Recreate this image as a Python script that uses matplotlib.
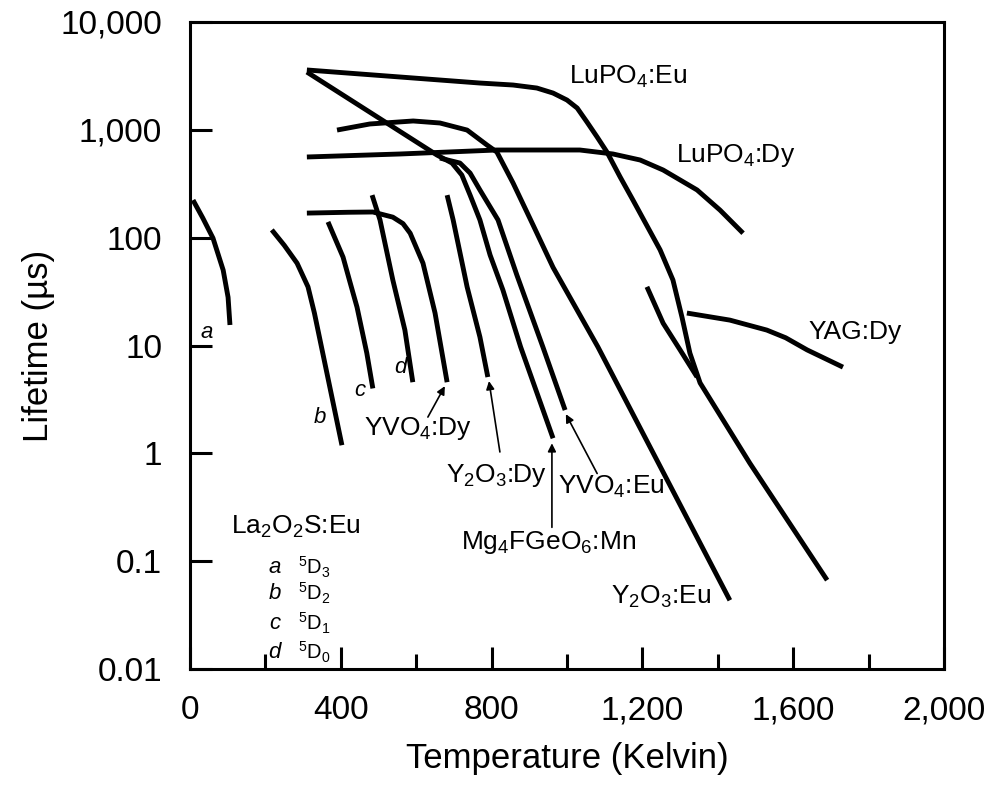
import matplotlib
matplotlib.use("Agg")
import matplotlib.pyplot as plt
from matplotlib.ticker import FixedLocator, MultipleLocator, FuncFormatter

plt.rcParams["font.family"] = ["Liberation Sans", "DejaVu Sans"]
plt.rcParams["mathtext.default"] = "regular"

# La2O2S:Eu levels a-d
a_T = [8, 34, 61, 88, 101, 106]
a_tau = [223, 152, 99, 50, 28, 15.5]
b_T = [217, 250, 284, 313, 330, 345, 371, 403]
b_tau = [118, 85, 58, 35, 20, 11.2, 4.1, 1.19]
c_T = [366, 406, 425, 443, 469, 485]
c_tau = [140, 66, 38, 22.7, 8.5, 4.0]
d_T = [483, 504, 538, 570, 591]
d_tau = [248, 146, 40.5, 13.9, 4.57]

yvo4_dy_T = [310, 420, 485, 538, 565, 584, 618, 650, 682]
yvo4_dy_tau = [169, 172, 173, 155, 135, 110, 58, 20, 4.57]

y2o3_dy_T = [682, 698, 735, 769, 790]
y2o3_dy_tau = [248, 146, 35, 12, 5.1]

mg_T = [310, 655, 695, 721, 743, 769, 796, 830, 877, 963]
mg_tau = [3435, 584, 492, 381, 248, 146, 69, 32.7, 9.7, 1.38]

yvo4_eu_T = [663, 716, 743, 769, 817, 867, 936, 995]
yvo4_eu_tau = [547, 492, 397, 277, 146, 45, 9.7, 2.52]

y2o3_eu_T = [390, 477, 592, 663, 735, 788, 814, 857, 910, 963, 1082, 1432]
y2o3_eu_tau = [995, 1133, 1208, 1157, 995, 722, 622, 321, 131, 53, 9.7, 0.0434]

lupo4_eu_T = [310, 769, 857, 920, 963, 1000, 1027, 1053, 1080, 1106, 1141,
              1175, 1247, 1281, 1305, 1326, 1353, 1485, 1690]
lupo4_eu_tau = [3590, 2716, 2603, 2441, 2193, 1889, 1592, 1181, 857, 622, 365,
                223, 77, 40.5, 18.3, 8.5, 4.5, 0.81, 0.0667]

lupo4_dy_T = [310, 557, 814, 1034, 1122, 1194, 1255, 1345, 1406, 1467]
lupo4_dy_tau = [560, 597, 650, 650, 597, 525, 424, 277, 180, 110]

yag_dy_T = [1318, 1432, 1530, 1580, 1637, 1732]
yag_dy_tau = [20, 17.2, 13.9, 11.8, 9.1, 6.3]

yag_low_T = [1212, 1255, 1300, 1345]
yag_low_tau = [35, 16.1, 9.1, 5.1]

y_ticks = [0.01, 0.1, 1, 10, 100, 1000, 10000]
y_labels = ["0.01", "0.1", "1", "10", "100", "1,000", "10,000"]

fig = plt.figure(figsize=(10, 7.91), dpi=100)
ax = fig.add_axes([0.19, 0.1542, 0.754, 0.818])

lw = 3.5
for T, tau in [(a_T, a_tau), (b_T, b_tau), (c_T, c_tau), (d_T, d_tau),
               (yvo4_dy_T, yvo4_dy_tau), (y2o3_dy_T, y2o3_dy_tau),
               (mg_T, mg_tau), (yvo4_eu_T, yvo4_eu_tau),
               (y2o3_eu_T, y2o3_eu_tau), (lupo4_eu_T, lupo4_eu_tau),
               (lupo4_dy_T, lupo4_dy_tau), (yag_dy_T, yag_dy_tau),
               (yag_low_T, yag_low_tau)]:
    ax.plot(T, tau, color="black", lw=lw, solid_capstyle="butt",
            solid_joinstyle="round")

ax.set_yscale("log")
ax.set_xlim(0, 2000)
ax.set_ylim(0.01, 10000)

ax.xaxis.set_major_locator(MultipleLocator(400))
ax.xaxis.set_minor_locator(MultipleLocator(200))
ax.xaxis.set_major_formatter(FuncFormatter(lambda v, p: f"{v:,.0f}"))
ax.yaxis.set_major_locator(FixedLocator(y_ticks))
ax.yaxis.set_minor_locator(FixedLocator([]))
ax.set_yticklabels(y_labels)

ax.tick_params(axis="both", which="major", direction="in", length=16,
               width=2.2, labelsize=24)
ax.tick_params(axis="x", which="minor", direction="in", length=11, width=2.2)
ax.tick_params(axis="x", which="major", pad=19)
ax.tick_params(axis="y", which="major", pad=20)
ax.tick_params(top=False, right=False)
for s in ax.spines.values():
    s.set_linewidth(2.2)

ax.set_xlabel("Temperature (Kelvin)", fontsize=25, labelpad=11)
ax.set_ylabel("Lifetime (\u00b5s)", fontsize=25, labelpad=4)

fs = 19
ax.text(1162, 3090, "LuPO$_4$:Eu", fontsize=fs, ha="center", va="center")
ax.text(1448, 584, "LuPO$_4$:Dy", fontsize=fs, ha="center", va="center")
ax.text(1764, 13.3, "YAG:Dy", fontsize=fs, ha="center", va="center")
ax.text(1249, 0.0464, "Y$_2$O$_3$:Eu", fontsize=fs, ha="center", va="center")

arrow = dict(arrowstyle="-|>", color="black", lw=1.2, mutation_scale=12,
             shrinkA=0, shrinkB=0)
ax.annotate("", xy=(676, 4.2), xytext=(631, 2.17), arrowprops=arrow)
ax.text(605, 1.71, "YVO$_4$:Dy", fontsize=fs, ha="center", va="center")
ax.annotate("", xy=(793, 4.68), xytext=(822, 1.03), arrowprops=arrow)
ax.text(814, 0.628, "Y$_2$O$_3$:Dy", fontsize=fs, ha="center", va="center")
ax.annotate("", xy=(997, 2.31), xytext=(1080, 0.65), arrowprops=arrow)
ax.text(1117, 0.486, "YVO$_4$:Eu", fontsize=fs, ha="center", va="center")
ax.annotate("", xy=(960, 1.24), xytext=(960, 0.206), arrowprops=arrow)
ax.text(950, 0.150, "Mg$_4$FGeO$_6$:Mn", fontsize=fs, ha="center", va="center")

for lab, T, tau in [("a", 45, 13.3), ("b", 345, 2.17), ("c", 451, 3.86),
                    ("d", 557, 6.2)]:
    ax.text(T, tau, lab, fontsize=16, style="italic", ha="center", va="center")

ax.text(281, 0.206, "La$_2$O$_2$S:Eu", fontsize=fs, ha="center", va="center")
rows = [("a", "$^5$D$_3$", 0.0879), ("b", "$^5$D$_2$", 0.0504),
        ("c", "$^5$D$_1$", 0.0266), ("d", "$^5$D$_0$", 0.0143)]
for lab, lvl, tau in rows:
    ax.text(225, tau, lab, fontsize=16, style="italic", ha="center", va="center")
    ax.text(286, tau, lvl, fontsize=14.5, ha="left", va="center")

fig.savefig("out.png", dpi=100)
